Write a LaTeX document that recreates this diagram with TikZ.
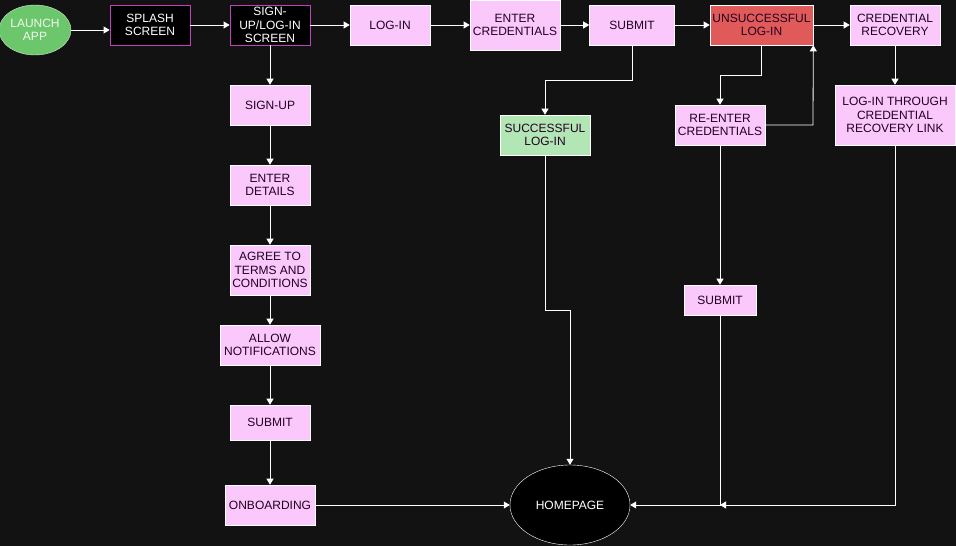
\documentclass[tikz,border=0pt]{standalone}
\usepackage{fontspec}
\setmainfont{Liberation Sans}
\usetikzlibrary{arrows.meta,shapes.geometric}
\definecolor{bg}{HTML}{121212}
\definecolor{pinkf}{HTML}{FAC8FA}
\definecolor{pinkd}{HTML}{C040C0}
\definecolor{redf}{HTML}{E05A5A}
\definecolor{greenf}{HTML}{B3E6B5}
\definecolor{greene}{HTML}{6CC66C}
\definecolor{txtd}{HTML}{220022}
\begin{document}
\begin{tikzpicture}[x=1pt,y=-1pt,
  every node/.style={font=\fontsize{12}{13.5}\selectfont, align=center, inner sep=0pt},
  pbox/.style={draw=white, fill=pinkf, text=txtd, line width=0.6pt},
  dbox/.style={draw=pinkd, fill=black, text=white, line width=0.8pt},
  conn/.style={draw=white, line width=0.8pt, -{Triangle[width=7pt,length=6pt]}},
]
\fill[bg] (0,0) rectangle (956,546);
\useasboundingbox (0,0) rectangle (956,546);
\node[ellipse, fill=greene, draw=white!70!greene, text=white!90!greene, minimum width=72pt, minimum height=50pt] (launch) at (35,30) {LAUNCH\\APP};
\node[dbox, minimum width=80pt, minimum height=40pt] (splash) at (150,25) {SPLASH\\SCREEN};
\node[dbox, minimum width=80pt, minimum height=40pt] (screen) at (270,25) {SIGN-\\UP/LOG-IN\\SCREEN};
\node[pbox, minimum width=80pt, minimum height=40pt] (login) at (390,25) {LOG-IN};
\node[pbox, minimum width=90pt, minimum height=50pt] (enter) at (515,25) {ENTER\\CREDENTIALS};
\node[pbox, minimum width=85pt, minimum height=40pt] (submit) at (632,25) {SUBMIT};
\node[pbox, fill=redf, minimum width=103pt, minimum height=40pt] (unsucc) at (761.5,25) {UNSUCCESSFUL\\LOG-IN};
\node[pbox, minimum width=90pt, minimum height=40pt] (credrec) at (895,25) {CREDENTIAL\\RECOVERY};
\node[pbox, minimum width=120pt, minimum height=60pt] (link) at (895,115) {LOG-IN THROUGH\\CREDENTIAL\\RECOVERY LINK};
\node[pbox, minimum width=90pt, minimum height=40pt] (reenter) at (720,125) {RE-ENTER\\CREDENTIALS};
\node[pbox, fill=greenf, minimum width=90pt, minimum height=40pt] (succ) at (545,135) {SUCCESSFUL\\LOG-IN};
\node[pbox, minimum width=72pt, minimum height=30pt] (submit3) at (720,300) {SUBMIT};
\node[pbox, minimum width=80pt, minimum height=40pt] (signup) at (270,105) {SIGN-UP};
\node[pbox, minimum width=80pt, minimum height=40pt] (details) at (270,185) {ENTER\\DETAILS};
\node[pbox, minimum width=80pt, minimum height=50pt] (agree) at (270,270) {AGREE TO\\TERMS AND\\CONDITIONS};
\node[pbox, minimum width=100pt, minimum height=40pt] (allow) at (270,345) {ALLOW\\NOTIFICATIONS};
\node[pbox, minimum width=80pt, minimum height=35pt] (submit2) at (270,422.5) {SUBMIT};
\node[pbox, minimum width=90pt, minimum height=40pt] (onboard) at (270,505) {ONBOARDING};
\node[ellipse, draw=white, fill=black, text=white, minimum width=120pt, minimum height=80pt] (home) at (570,505) {HOMEPAGE};
\coordinate (j) at (720,505);
\draw[conn] (launch) -- (launch.east -| splash.west);
\draw[conn] (splash.east) -- (screen.west);
\draw[conn] (screen.east) -- (login.west);
\draw[conn] (login.east) -- (enter.west);
\draw[conn] (enter.east) -- (submit.west);
\draw[conn] (submit.east) -- (unsucc.west);
\draw[conn] (unsucc.east) -- (credrec.west);
\draw[conn] (credrec.south) -- (link.north);
\draw[conn] (screen.south) -- (signup.north);
\draw[conn] (signup.south) -- (details.north);
\draw[conn] (details.south) -- (agree.north);
\draw[conn] (agree.south) -- (allow.north);
\draw[conn] (allow.south) -- (submit2.north);
\draw[conn] (submit2.south) -- (onboard.north);
\draw[conn] (onboard.east) -- (home.west);
\draw[conn] (submit.south) -- (632,80) -- (545,80) -- (succ.north);
\draw[conn] (succ.south) -- (545,310) -- (570,310) -- (home.north);
\draw[conn] (unsucc.south) -- (761.5,75) -- (720,75) -- (reenter.north);
\draw[conn] (reenter.east) -- (813,125) -- (unsucc.south east);
\draw[conn] (reenter.south) -- (submit3.north);
\draw[conn] (submit3.south) -- (j) -- (home.east);
\draw[conn] (link.south) -- (895,505) -- (j);
\end{tikzpicture}
\end{document}
